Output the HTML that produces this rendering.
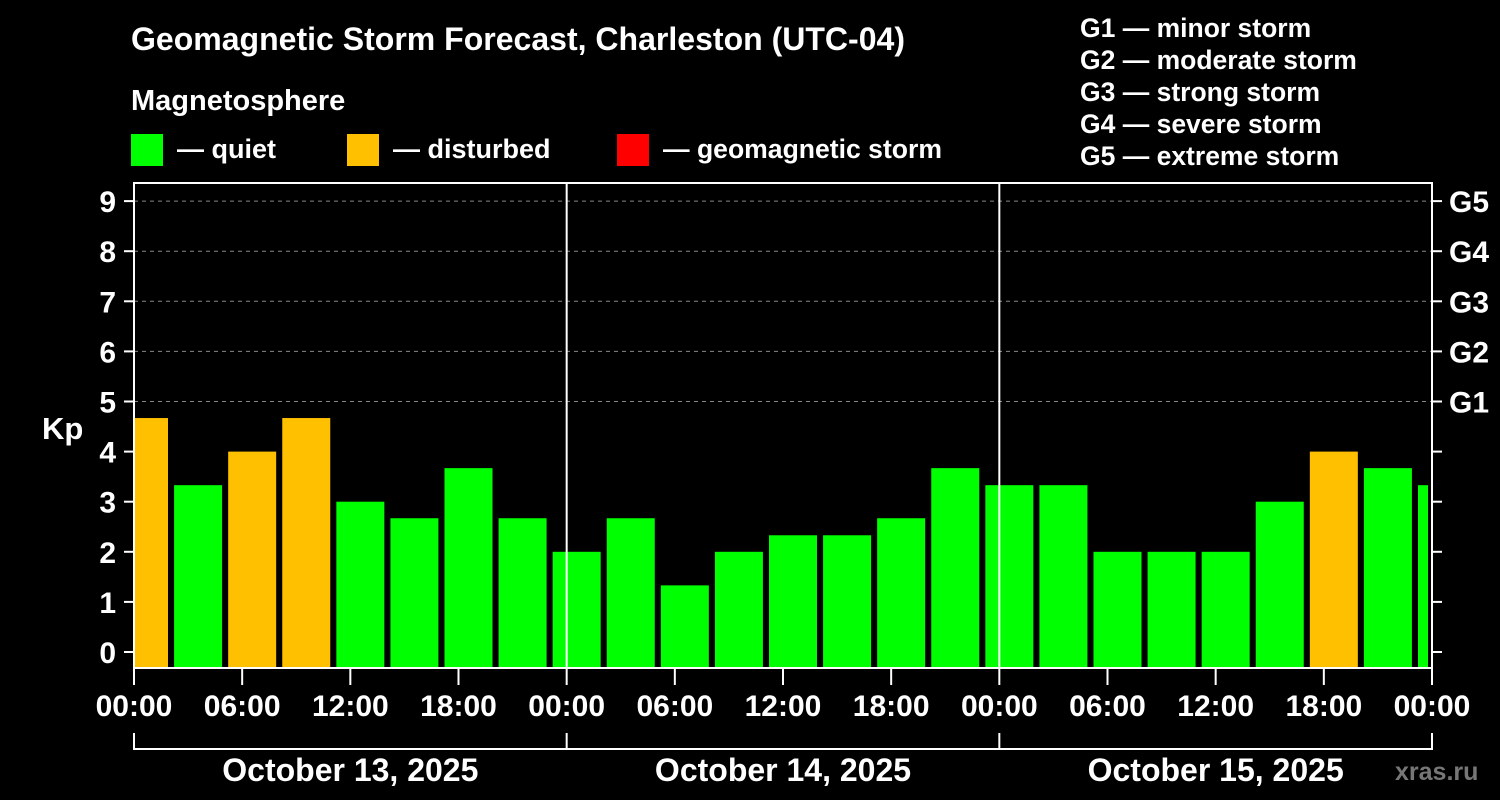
<!DOCTYPE html>
<html><head><meta charset="utf-8"><style>
html,body{margin:0;padding:0;background:#000;width:1500px;height:800px;overflow:hidden}
svg text{font-family:"Liberation Sans",Arial,sans-serif;font-weight:bold;fill:#fff}
</style></head><body>
<svg id="chart" width="1500" height="800" xmlns="http://www.w3.org/2000/svg">
<text x="131" y="50" font-size="32" textLength="774" lengthAdjust="spacingAndGlyphs">Geomagnetic Storm Forecast, Charleston (UTC-04)</text>
<text x="131" y="110" font-size="29">Magnetosphere</text>
<g>
<rect x="131" y="134" width="32" height="32" fill="#00ff00"/>
<text x="177" y="158" font-size="27">— quiet</text>
<rect x="347" y="134" width="32" height="32" fill="#ffc000"/>
<text x="393" y="158" font-size="27">— disturbed</text>
<rect x="617" y="134" width="32" height="32" fill="#ff0000"/>
<text x="663" y="158" font-size="27" textLength="279" lengthAdjust="spacingAndGlyphs">— geomagnetic storm</text>
</g>
<g font-size="26.5">
<text x="1080" y="37">G1 — minor storm</text>
<text x="1080" y="69">G2 — moderate storm</text>
<text x="1080" y="101">G3 — strong storm</text>
<text x="1080" y="133">G4 — severe storm</text>
<text x="1080" y="165">G5 — extreme storm</text>
</g>
<text x="42" y="439" font-size="31">Kp</text>
<g id="plot"></g>
<text x="1395" y="780" font-size="25" style="fill:#777">xras.ru</text>
</svg>
<script>
const kpValues=[4.67,3.33,4.0,4.67,3.0,2.67,3.67,2.67,2.0,2.67,1.33,2.0,2.33,2.33,2.67,3.67,3.33,3.33,2.0,2.0,2.0,3.0,4.0,3.67,3.33];
const yTicks=[0,1,2,3,4,5,6,7,8,9];
const gLabels=["G1","G2","G3","G4","G5"];
const timeLabels=["00:00","06:00","12:00","18:00","00:00","06:00","12:00","18:00","00:00","06:00","12:00","18:00","00:00"];
const dayLabels=["October 13, 2025","October 14, 2025","October 15, 2025"];

const NS="http://www.w3.org/2000/svg";
const L=134,R=1432,T=183,B=668;
const pxHour=(R-L)/72;
const y=v=>652-v*50.1;
const x=h=>L+h*pxHour;
const g=document.getElementById('plot');
function mk(tag,a){const e=document.createElementNS(NS,tag);for(const k in a)e.setAttribute(k,a[k]);g.appendChild(e);return e;}
for(let v=5;v<=9;v++){
const l=mk('line',{x1:L,x2:R,y1:y(v),y2:y(v),stroke:'#888','stroke-dasharray':'4,4','stroke-width':1});


}
kpValues.forEach((v,i)=>{
let x0=x(3*i)-14, x1=x0+48;
x0=Math.max(x0,L+1); x1=Math.min(x1,R-4);
const c=v>=5?'#ff0000':(v>=4?'#ffc000':'#00ff00');
const r=mk('rect',{x:x0,y:y(v),width:x1-x0,height:B-y(v),fill:c});


});
[1,2].forEach(d=>{const l=mk('line',{x1:x(24*d),x2:x(24*d),y1:T,y2:B,stroke:'#fff','stroke-width':2});

});
const f=mk('rect',{x:L,y:T,width:R-L,height:B-T,fill:'none',stroke:'#fff','stroke-width':2});


yTicks.forEach(v=>{
mk('line',{x1:L-10,x2:L,y1:y(v),y2:y(v),stroke:'#fff','stroke-width':2});
mk('line',{x1:R,x2:R+10,y1:y(v),y2:y(v),stroke:'#fff','stroke-width':2});
const t=mk('text',{x:L-18,y:y(v)+11,'font-size':30,'text-anchor':'end'});t.textContent=v;


});
gLabels.forEach((s,i)=>{const t=mk('text',{x:1449,y:y(5+i)+11,'font-size':30});t.textContent=s;

});
timeLabels.forEach((s,i)=>{
mk('line',{x1:x(6*i),x2:x(6*i),y1:B,y2:B+17,stroke:'#fff','stroke-width':2});
const t=mk('text',{x:x(6*i),y:716,'font-size':30,'text-anchor':'middle'});t.textContent=s;


});
mk('line',{x1:L,x2:R,y1:749,y2:749,stroke:'#fff','stroke-width':2});
for(let d=0;d<=3;d++)mk('line',{x1:x(24*d),x2:x(24*d),y1:733,y2:750,stroke:'#fff','stroke-width':2});
dayLabels.forEach((s,i)=>{const t=mk('text',{x:x(24*i+12),y:781,'font-size':32,'text-anchor':'middle'});t.textContent=s;

});
</script>
</body></html>
